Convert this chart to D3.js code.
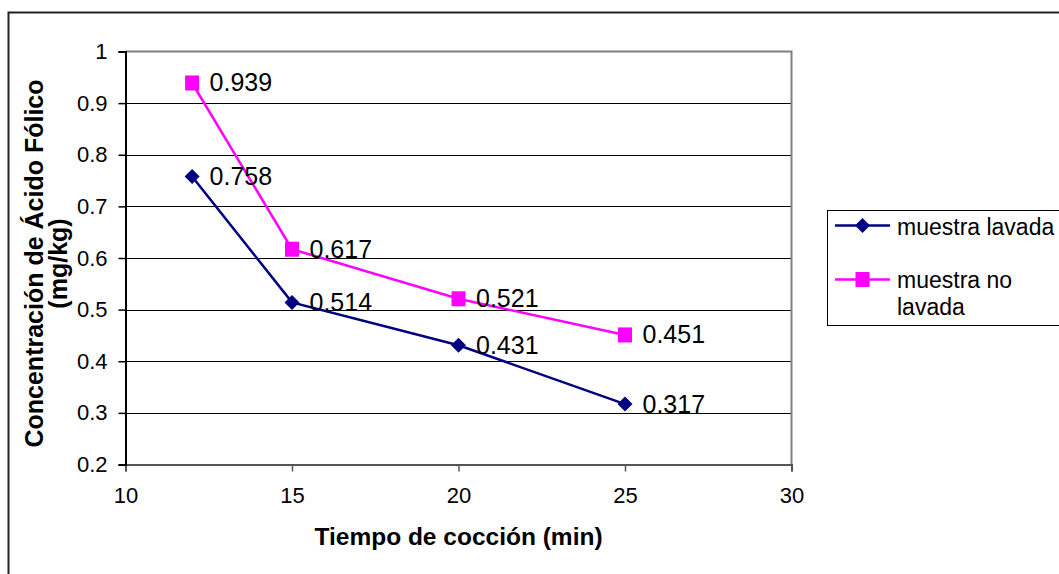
<!DOCTYPE html>
<html>
<head>
<meta charset="utf-8">
<script src="https://cdn.jsdelivr.net/npm/d3@7"></script>
<style>
  html, body { margin: 0; padding: 0; background: #fff; }
  svg { display: block; font-family: "Liberation Sans", Arial, sans-serif; }
</style>
</head>
<body>
<svg id="chart" width="1059" height="574"></svg>
<script>
// Tiempo de cocción (min) y concentración de ácido fólico (mg/kg)
const tiempo = [12, 15, 20, 25];
const muestraLavada = [0.758, 0.514, 0.431, 0.317];
const muestraNoLavada = [0.939, 0.617, 0.521, 0.451];
const xTicks = [10, 15, 20, 25, 30];
const yTicks = [0.2, 0.3, 0.4, 0.5, 0.6, 0.7, 0.8, 0.9, 1];
const seriesNames = ["muestra lavada", "muestra no lavada"];

const svg = d3.select("#chart");
const plot = { left: 125.5, right: 791.5, top: 51.5, bottom: 464.5 };

const x = d3.scaleLinear().domain([10, 30]).range([plot.left, plot.right]);
const y = d3.scaleLinear().domain([0.2, 1]).range([plot.bottom, plot.top]);

// outer frame
svg.append("rect")
  .attr("x", 8.5).attr("y", 12.5).attr("width", 1100).attr("height", 600)
  .attr("fill", "none").attr("stroke", "#222").attr("stroke-width", 2);

// horizontal gridlines
svg.append("g").selectAll("line")
  .data(yTicks.filter(v => v > 0.2 && v < 1))
  .join("line")
  .attr("x1", plot.left).attr("x2", plot.right)
  .attr("y1", d => Math.round(y(d)) + 0.5).attr("y2", d => Math.round(y(d)) + 0.5)
  .attr("stroke", "#000").attr("stroke-width", 1);

// plot frame: top and right in grey
svg.append("path")
  .attr("d", `M${plot.left},${plot.top}H${plot.right}V${plot.bottom}`)
  .attr("fill", "none").attr("stroke", "#808080").attr("stroke-width", 2);

// x axis
const xAxis = svg.append("g")
  .attr("transform", `translate(0,${plot.bottom})`)
  .call(d3.axisBottom(x).tickValues(xTicks).tickSize(7).tickPadding(16).tickFormat(d3.format("d")));
xAxis.select(".domain").attr("stroke", "#555").attr("stroke-width", 2);
xAxis.selectAll(".tick line").attr("stroke", "#555").attr("stroke-width", 1.5);
xAxis.selectAll(".tick text").attr("font-size", 22).attr("fill", "#000")
  .attr("font-family", "Liberation Sans, Arial, sans-serif");

// y axis
const yAxis = svg.append("g")
  .attr("transform", `translate(${plot.left},0)`)
  .call(d3.axisLeft(y).tickValues(yTicks).tickSize(7).tickPadding(11).tickFormat(d => String(+d.toFixed(1))));
yAxis.select(".domain").attr("stroke", "#000").attr("stroke-width", 2);
yAxis.selectAll(".tick line").attr("stroke", "#000").attr("stroke-width", 1.5);
yAxis.selectAll(".tick text").attr("font-size", 22).attr("fill", "#000")
  .attr("font-family", "Liberation Sans, Arial, sans-serif");

// axis titles
svg.append("text")
  .attr("x", (plot.left + plot.right) / 2).attr("y", 545)
  .attr("text-anchor", "middle").attr("font-size", 24.5).attr("font-weight", "bold")
  .text("Tiempo de cocción (min)");

const yTitle = svg.append("text")
  .attr("transform", `translate(0,${263.5}) rotate(-90)`)
  .attr("text-anchor", "middle").attr("font-size", 25).attr("font-weight", "bold");
yTitle.append("tspan").attr("x", 0).attr("y", 43).text("Concentración de Ácido Fólico");
yTitle.append("tspan").attr("x", 0).attr("y", 67).text("(mg/kg)");

// series
const series = [
  { name: seriesNames[0], values: muestraLavada, color: "#000080", shape: "diamond" },
  { name: seriesNames[1], values: muestraNoLavada, color: "#FF00FF", shape: "square" }
];

function markerPath(shape) {
  if (shape === "diamond") return "M0,-7.5L7.5,0L0,7.5L-7.5,0Z";
  return "M-7,-7.5H7V7.5H-7Z";
}

const line = d3.line().x(d => x(d[0])).y(d => y(d[1]));

series.forEach(s => {
  const pts = tiempo.map((t, i) => [t, s.values[i]]);
  svg.append("path")
    .datum(pts)
    .attr("d", line)
    .attr("fill", "none").attr("stroke", s.color).attr("stroke-width", 2.5);
  svg.append("g").selectAll("path")
    .data(pts)
    .join("path")
    .attr("transform", d => `translate(${x(d[0])},${y(d[1])})`)
    .attr("d", markerPath(s.shape))
    .attr("fill", s.color);
});

// value labels
series.forEach(s => {
  svg.append("g").selectAll("text")
    .data(tiempo.map((t, i) => [t, s.values[i]]))
    .join("text")
    .attr("x", d => x(d[0]) + 17.5)
    .attr("y", d => y(d[1]) + 8.5)
    .attr("font-size", 25)
    .attr("fill", "#000")
    .text(d => d3.format(".3f")(d[1]));
});

// legend
const legend = svg.append("g");
legend.append("rect")
  .attr("x", 827.5).attr("y", 210.5).attr("width", 300).attr("height", 115)
  .attr("fill", "#fff").attr("stroke", "#000").attr("stroke-width", 1);

const legendRows = [
  { s: series[0], ly: 225.5, lines: ["muestra lavada"], ty: 235 },
  { s: series[1], ly: 279.5, lines: ["muestra no", "lavada"], ty: 288 }
];
legendRows.forEach(r => {
  legend.append("line")
    .attr("x1", 835).attr("x2", 890).attr("y1", r.ly).attr("y2", r.ly)
    .attr("stroke", r.s.color).attr("stroke-width", 2.5);
  legend.append("path")
    .attr("transform", `translate(862.5,${r.ly})`)
    .attr("d", markerPath(r.s.shape)).attr("fill", r.s.color);
  const t = legend.append("text").attr("font-size", 23).attr("fill", "#000");
  r.lines.forEach((ln, i) => {
    t.append("tspan").attr("x", 897).attr("y", r.ty + i * 27).text(ln);
  });
});
</script>
</body>
</html>
